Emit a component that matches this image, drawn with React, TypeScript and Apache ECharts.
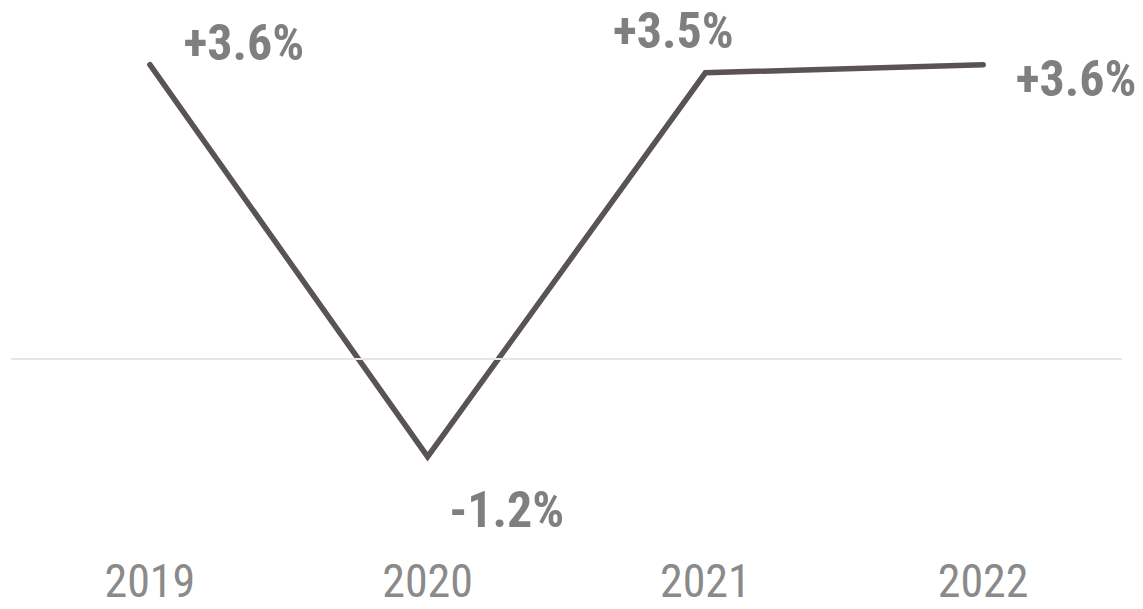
import React, { useEffect, useRef } from "react";
import * as echarts from "echarts";

const years = ["2019", "2020", "2021", "2022"];
const growth = [3.6, -1.2, 3.5, 3.6];
const labelOffsets: [number, number][] = [
  [94, -22],
  [79, 53],
  [-32, -42],
  [93, 14],
];

const FONT = '"Liberation Sans Narrow", "Arial Narrow", "Roboto Condensed", "Liberation Sans", sans-serif';

export default function App() {
  const ref = useRef<HTMLDivElement>(null);
  useEffect(() => {
    if (!ref.current) return;
    const chart = echarts.init(ref.current, null, { renderer: "svg" });
    const SYM = 2;
    chart.setOption({
      animation: false,
      backgroundColor: "#ffffff",
      grid: { left: 11, right: 21, top: 32, bottom: 87 },
      xAxis: {
        type: "category",
        data: years,
        boundaryGap: true,
        axisLine: { show: false },
        axisTick: { show: false },
        axisLabel: {
          color: "#8a8a8a",
          fontSize: 46,
          fontFamily: FONT,
          margin: 36,
          lineHeight: 46,
        },
      },
      yAxis: {
        type: "value",
        min: -2,
        max: 4,
        show: false,
        splitLine: { show: false },
      },
      series: [
        {
          type: "line",
          data: growth.map((v, i) => ({
            value: v,
            label: {
              show: true,
              position: [labelOffsets[i][0] + SYM / 2, labelOffsets[i][1] + SYM / 2],
              formatter: (v > 0 ? "+" : "") + v.toFixed(1) + "%",
            },
          })),
          symbol: "circle",
          symbolSize: SYM,
          showSymbol: true,
          itemStyle: { color: "#5a5353" },
          lineStyle: { color: "#5a5353", width: 5.5, cap: "round", join: "miter" },
          label: {
            show: true,
            color: "#7f7f7f",
            fontSize: 50,
            fontWeight: "bold",
            fontFamily: FONT,
            align: "center",
            verticalAlign: "middle",
          },
          labelLayout: { hideOverlap: false },
          markLine: {
            silent: true,
            symbol: "none",
            label: { show: false },
            lineStyle: { color: "#e6e6e6", width: 2, type: "solid" },
            data: [{ yAxis: 0 }],
          },
          z: 3,
        },
      ],
    });
    return () => chart.dispose();
  }, []);
  return (
    <div
      ref={ref}
      style={{ position: "fixed", left: 0, top: 0, width: 1143, height: 609 }}
    />
  );
}
